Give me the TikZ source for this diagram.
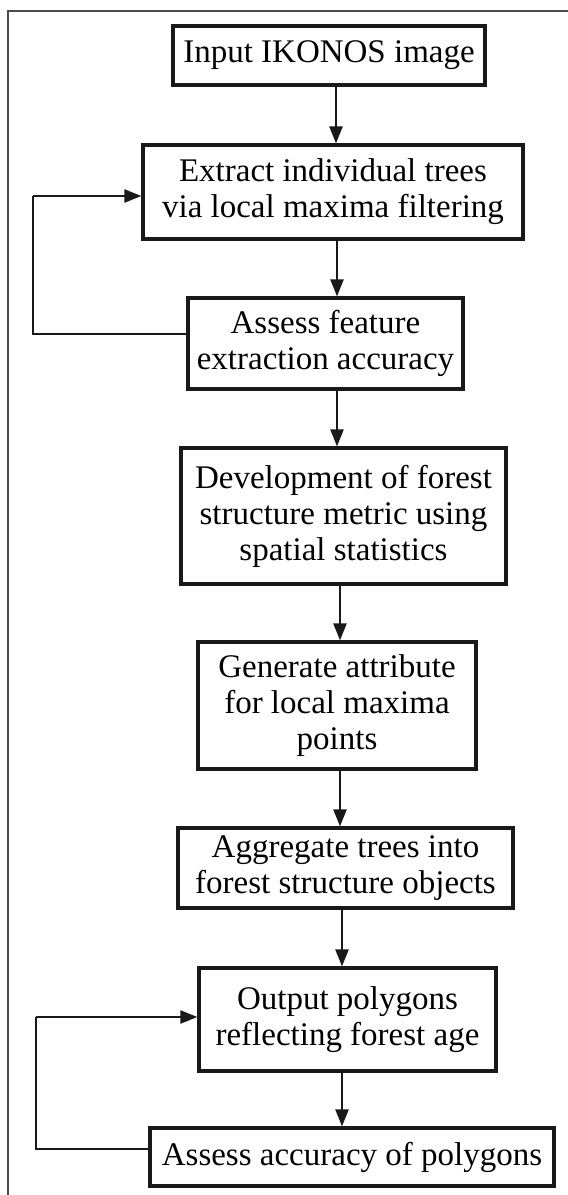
\documentclass[tikz,border=0pt]{standalone}
\usepackage{fontspec}
\setmainfont{Liberation Serif}
\usetikzlibrary{arrows.meta}
\begin{document}
\begin{tikzpicture}[x=1pt,y=-1pt,
  stepbox/.style={draw=black!90, line width=3.2pt, inner sep=0pt, align=center,
    font=\fontsize{33}{36}\selectfont},
  arr/.style={draw=black!90, line width=2.2pt, -{Triangle[length=17pt,width=13pt]}},
  link/.style={draw=black!90, line width=2.2pt},
  frame/.style={draw=black!70, line width=2pt}]
\useasboundingbox (0,0) rectangle (568,1195);
\fill[white] (0,0) rectangle (568,1195);

% outer frame (top and left edges)
\draw[frame] (568,11) -- (8,11) -- (8,1195);

% process steps
\node[stepbox, minimum width=312pt, minimum height=59pt] (b1) at (329,55.5)
  {Input IKONOS image};
\node[stepbox, minimum width=380pt, minimum height=94pt] (b2) at (333,192)
  {Extract individual trees\\via local maxima filtering};
\node[stepbox, minimum width=275pt, minimum height=91pt] (b3) at (325.5,343.5)
  {Assess feature\\extraction accuracy};
\node[stepbox, minimum width=325pt, minimum height=136pt] (b4) at (343.5,516)
  {Development of forest\\structure metric using\\spatial statistics};
\node[stepbox, minimum width=278pt, minimum height=127pt] (b5) at (337,705.5)
  {Generate attribute\\for local maxima\\points};
\node[stepbox, minimum width=335pt, minimum height=80pt] (b6) at (345.5,868)
  {Aggregate trees into\\forest structure objects};
\node[stepbox, minimum width=297pt, minimum height=103pt] (b7) at (347.5,1019.5)
  {Output polygons\\reflecting forest age};
\node[stepbox, minimum width=404pt, minimum height=58pt] (b8) at (352,1157)
  {Assess accuracy of polygons};

% vertical connector positions
\coordinate (a1) at (336,0);
\coordinate (a2) at (337,0);
\coordinate (a3) at (337,0);
\coordinate (a4) at (340,0);
\coordinate (a5) at (340,0);
\coordinate (a6) at (342,0);
\coordinate (a7) at (342,0);

\draw[arr] (b1.south -| a1) -- (b2.north -| a1);
\draw[arr] (b2.south -| a2) -- (b3.north -| a2);
\draw[arr] (b3.south -| a3) -- (b4.north -| a3);
\draw[arr] (b4.south -| a4) -- (b5.north -| a4);
\draw[arr] (b5.south -| a5) -- (b6.north -| a5);
\draw[arr] (b6.south -| a6) -- (b7.north -| a6);
\draw[arr] (b7.south -| a7) -- (b8.north -| a7);

% feedback loops
\coordinate (l1out) at (0,334);
\coordinate (l1in) at (0,196);
\coordinate (l1x) at (33,0);
\draw[link] (b3.west |- l1out) -- (l1x |- l1out) -- (l1x |- l1in);
\draw[arr] (l1x |- l1in) -- (b2.west |- l1in);

\coordinate (l2out) at (0,1149);
\coordinate (l2in) at (0,1017);
\coordinate (l2x) at (36,0);
\draw[link] (b8.west |- l2out) -- (l2x |- l2out) -- (l2x |- l2in);
\draw[arr] (l2x |- l2in) -- (b7.west |- l2in);
\end{tikzpicture}
\end{document}
